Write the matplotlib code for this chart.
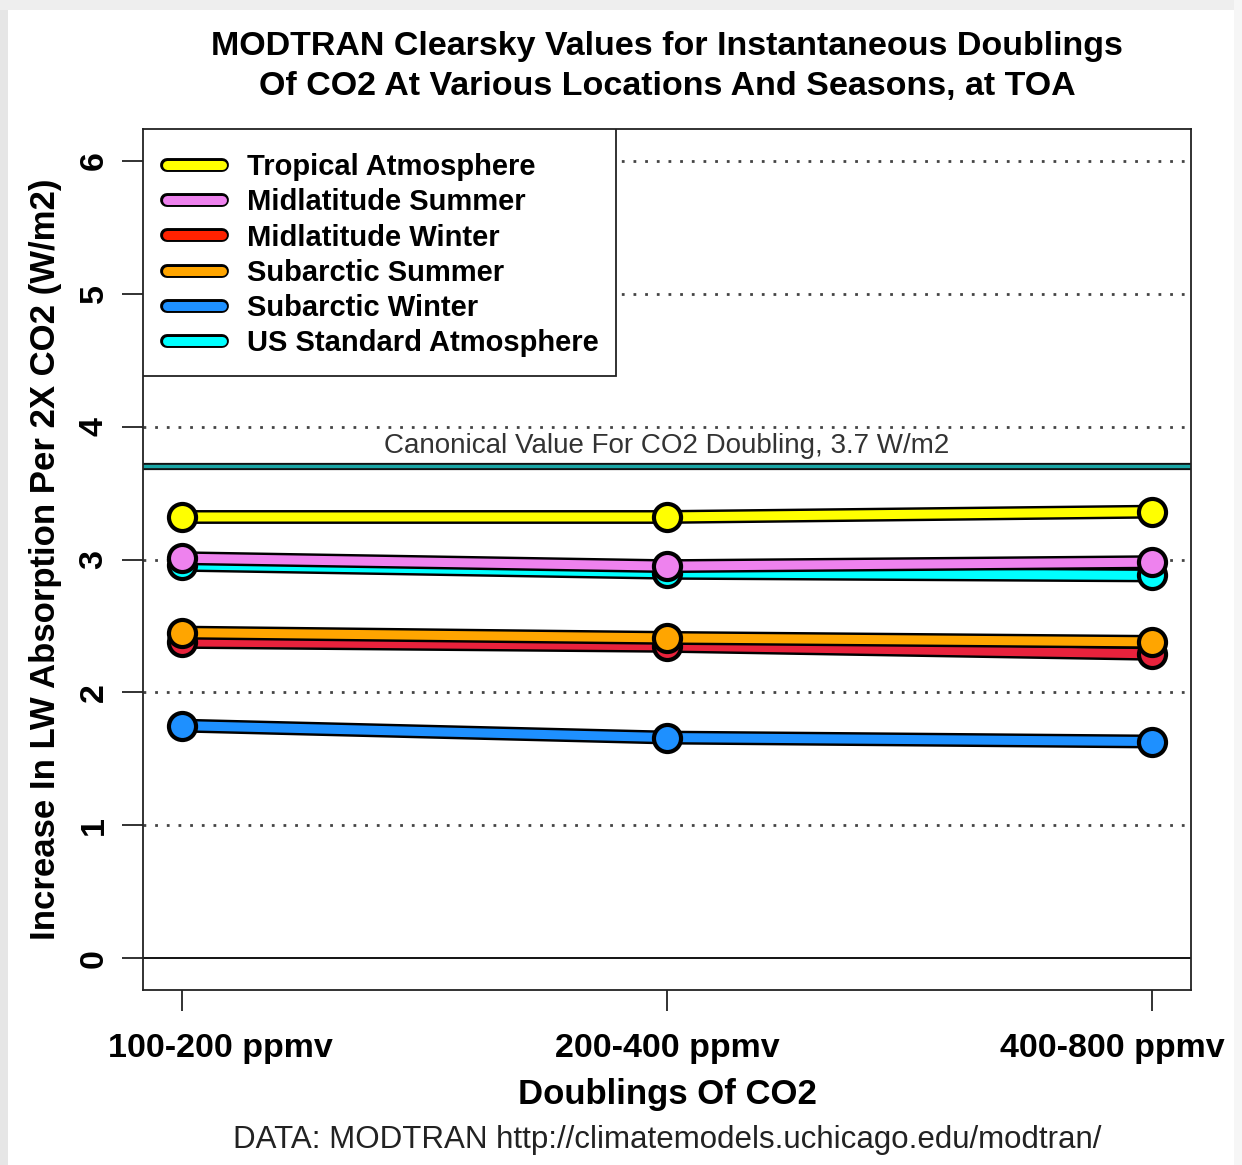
import numpy as np
import matplotlib
matplotlib.use("Agg")
import matplotlib.pyplot as plt
import matplotlib.patheffects as pe
import matplotlib.transforms as mtrans
from matplotlib.lines import Line2D
from matplotlib.patches import Rectangle

plt.rcParams['font.family'] = ['Liberation Sans', 'DejaVu Sans']

# data
doublings = ["100-200 ppmv", "200-400 ppmv", "400-800 ppmv"]
tropical = [3.32, 3.32, 3.36]
midlat_summer = [3.01, 2.95, 2.98]
midlat_winter = [2.38, 2.35, 2.29]
subarctic_summer = [2.45, 2.41, 2.38]
subarctic_winter = [1.75, 1.66, 1.63]
us_standard = [2.96, 2.90, 2.88]
canonical = 3.7

series = [
    ("Tropical Atmosphere", tropical, "#ffff00", 8),
    ("Midlatitude Summer", midlat_summer, "#ee82ee", 7),
    ("Midlatitude Winter", midlat_winter, "#e8223c", 4),
    ("Subarctic Summer", subarctic_summer, "#ffa500", 6),
    ("Subarctic Winter", subarctic_winter, "#1e90ff", 5),
    ("US Standard Atmosphere", us_standard, "#00ffff", 4.5),
]
legend_colors = ["#ffff00", "#ee82ee", "#ff2200", "#ffa500", "#1e90ff", "#00ffff"]

outline = [pe.Stroke(linewidth=10, foreground="black"), pe.Normal()]

fig = plt.figure(figsize=(12.42, 11.65), dpi=100)

# screenshot shadow edges
fig.patches.append(Rectangle((0, 0), 8 / 1242, 1, transform=fig.transFigure,
                             facecolor="#e6e6e6", edgecolor="none"))
fig.patches.append(Rectangle((0, 1 - 10 / 1165), 1, 10 / 1165, transform=fig.transFigure,
                             facecolor="#eeeeee", edgecolor="none"))
fig.patches.append(Rectangle((1234 / 1242, 0), 8 / 1242, 1, transform=fig.transFigure,
                             facecolor="#f6f6f6", edgecolor="none"))

ax = fig.add_axes([143 / 1242, 175 / 1165, 1048 / 1242, 861 / 1165])
x = np.arange(1, len(doublings) + 1)

for yv in range(1, 7):
    ax.axhline(yv, color="#444444", lw=2, linestyle=(0, (1, 3.2)), zorder=1)
ax.axhline(0, color="black", lw=1.3, zorder=1)

# canonical 3.7 line
ax.axhline(canonical, color="#1aa6a6", lw=2.4, zorder=2,
           path_effects=[pe.Stroke(linewidth=5.2, foreground="#111111"), pe.Normal()])
ax.text(2, canonical + 0.055, "Canonical Value For CO2 Doubling, 3.7 W/m2",
        ha="center", va="bottom", fontsize=20, color="#333333", zorder=2)

for name, vals, col, z in series:
    ax.plot(x, vals, color=col, lw=6.5, solid_capstyle="round", zorder=z,
            path_effects=outline)
    ax.plot(x, vals, linestyle="none", marker="o", markersize=19.5,
            markerfacecolor=col, markeredgecolor="black", markeredgewidth=3,
            zorder=z + 0.1)

ax.set_xlim(0.92, 3.08)
ax.set_ylim(-0.24, 6.24)
ax.set_xticks(x)
ax.set_xticklabels(doublings, fontsize=24.5, fontweight="bold")
ax.set_yticks(range(0, 7))
ax.set_yticklabels([str(v) for v in range(0, 7)], fontsize=24.5, fontweight="bold",
                   rotation=90, va="center")
ax.tick_params(axis="both", length=15, width=1.3, color="#222222")
ax.tick_params(axis="x", pad=16)
ax.tick_params(axis="y", pad=9)
for s in ax.spines.values():
    s.set_linewidth(1.3)
    s.set_color("#222222")

# outer labels sit inward of their ticks in the reference
xlabels = ax.get_xticklabels()
shifts = [0.39, 0.0, -0.40]
for lab, dx in zip(xlabels, shifts):
    lab.set_transform(lab.get_transform() +
                      mtrans.ScaledTranslation(dx, 0, fig.dpi_scale_trans))

ax.set_xlabel("Doublings Of CO2", fontsize=25, fontweight="bold", labelpad=10)
ax.set_ylabel("Increase In LW Absorption Per 2X CO2 (W/m2)", fontsize=25,
              fontweight="bold", labelpad=12)

# legend box
ax.add_patch(Rectangle((0, 1 - 247 / 861), 473 / 1048, 247 / 861, transform=ax.transAxes,
                       facecolor="white", edgecolor="#222222", lw=1.3, zorder=10))
handles = [Line2D([], [], color=c, lw=6.5, solid_capstyle="round", path_effects=outline)
           for c in legend_colors]
leg = ax.legend(handles, [s[0] for s in series], loc="upper left",
                bbox_to_anchor=(24 / 1048, 1 - 24 / 861), frameon=False,
                prop={"size": 21, "weight": "bold"}, handlelength=1.9,
                handletextpad=0.85, labelspacing=0.25, borderpad=0, borderaxespad=0)
leg.set_zorder(11)

fig.text(667 / 1242, 1 - 31 / 1165,
         "MODTRAN Clearsky Values for Instantaneous Doublings\nOf CO2 At Various Locations And Seasons, at TOA",
         ha="center", va="top", fontsize=24.5, fontweight="bold", linespacing=1.38)
fig.text(667 / 1242, 1 - 1140 / 1165,
         "DATA: MODTRAN http://climatemodels.uchicago.edu/modtran/",
         ha="center", va="center", fontsize=22.5, color="#222222")

fig.savefig("out.png", dpi=100)
